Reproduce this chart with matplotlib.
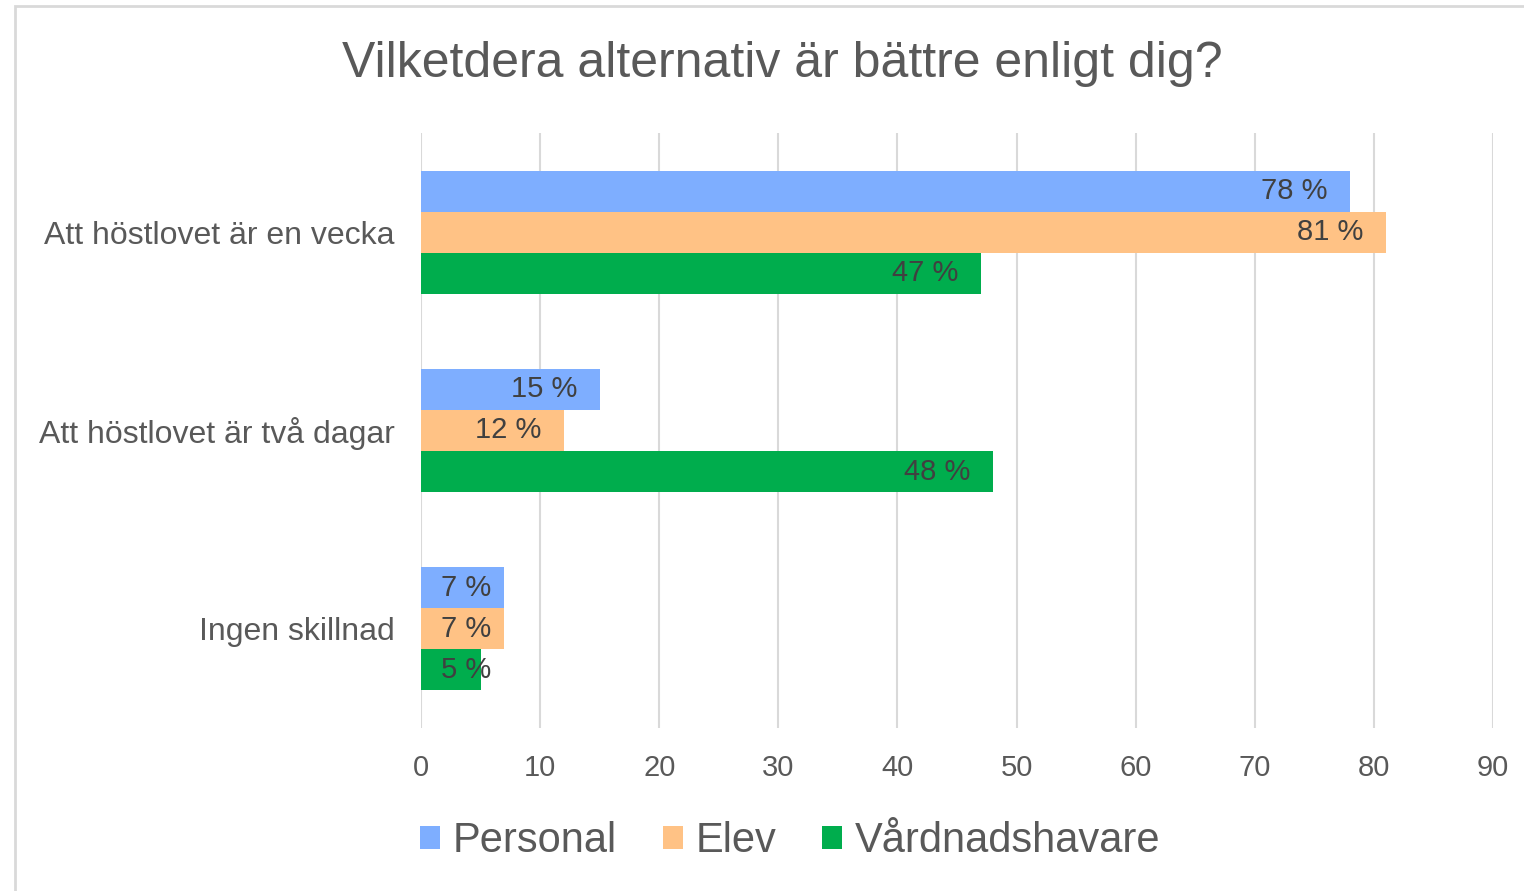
import matplotlib
matplotlib.use("Agg")
import matplotlib.pyplot as plt
from matplotlib.patches import Rectangle
import numpy as np

plt.rcParams['font.family'] = ['Liberation Sans', 'DejaVu Sans']

categories = ["Att höstlovet är en vecka", "Att höstlovet är två dagar", "Ingen skillnad"]
series_names = ["Personal", "Elev", "Vårdnadshavare"]
personal = [78, 15, 7]
elev = [81, 12, 7]
vardnad = [47, 48, 5]
xticks = [0, 10, 20, 30, 40, 50, 60, 70, 80, 90]
title = "Vilketdera alternativ är bättre enligt dig?"

colors = ["#7EAEFF", "#FFC285", "#00AD4D"]
series = [personal, elev, vardnad]

W, H = 1524, 891
fig = plt.figure(figsize=(W / 100, H / 100), dpi=100)
fig.patch.set_facecolor("white")

# outer border (left and top visible)
fig.add_artist(Rectangle((15 / W, -0.05), 1.2, (891 - 6) / H + 0.05, transform=fig.transFigure,
                         fill=False, edgecolor="#D9D9D9", linewidth=2.0))

ax = fig.add_axes([421 / W, (891 - 728) / H, (1493 - 421) / W, (728 - 133) / H])
ax.set_facecolor("white")

bar_h = 0.207
y = np.arange(len(categories))
offsets = [-bar_h, 0, bar_h]
for vals, col, off, name in zip(series, colors, offsets, series_names):
    ax.barh(y + off, vals, height=bar_h, color=col, label=name, zorder=3)
    for yy, v in zip(y + off, vals):
        if v >= 10:
            ax.annotate(f"{v} %", xy=(v, yy), xytext=(-16, 0), textcoords="offset points",
                        ha="right", va="center", fontsize=21, color="#404040", zorder=4)
        else:
            ax.annotate(f"{v} %", xy=(0, yy), xytext=(14.5, 0), textcoords="offset points",
                        ha="left", va="center", fontsize=21, color="#404040", zorder=4)

ax.set_xlim(0, 90)
ax.set_ylim(2.5, -0.5)
ax.set_xticks(xticks)
ax.set_xticklabels([str(t) for t in xticks])
ax.set_yticks(y)
ax.set_yticklabels(categories)
ax.tick_params(axis="both", length=0, colors="#595959")
ax.tick_params(axis="x", labelsize=21, pad=19)
ax.tick_params(axis="y", labelsize=23, pad=19)
for s in ax.spines.values():
    s.set_visible(False)
ax.xaxis.grid(True, color="#D9D9D9", linewidth=1.5, zorder=0)
ax.yaxis.grid(False)
ax.set_axisbelow(True)

fig.text(782 / W, 1 - 64 / H, title, ha="center", va="center", fontsize=36, color="#595959")

leg = fig.legend(loc="center", bbox_to_anchor=(790 / W, 1 - 841 / H), ncol=3, frameon=False,
                 fontsize=30, handlelength=0.48, handleheight=0.48, handletextpad=0.3,
                 columnspacing=1.1, borderpad=0)
for t in leg.get_texts():
    t.set_color("#595959")

fig.savefig("out.png", dpi=100, facecolor="white")
